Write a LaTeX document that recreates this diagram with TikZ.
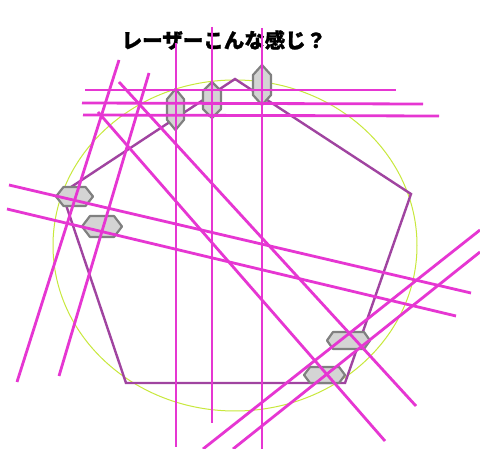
\documentclass[tikz,border=0pt]{standalone}
\usepackage{fontspec}
\newfontfamily\cjk[BoldFeatures={FakeBold=1.2}]{Noto Sans CJK JP}
\definecolor{laser}{RGB}{230,54,210}
\definecolor{penta}{RGB}{160,68,160}
\definecolor{ring}{RGB}{200,232,60}
\definecolor{hexline}{RGB}{128,128,128}
\definecolor{hexfill}{RGB}{212,212,212}
\tikzset{
  beam/.style={draw=laser, line width=2.8pt},
  pentaline/.style={draw=penta, line width=2.4pt, line join=miter},
  ringline/.style={draw=ring, line width=1pt},
  hexbox/.style={draw=hexline, fill=hexfill, line width=2.2pt, line join=round},
  titletext/.style={font=\cjk\bfseries\fontsize{20.5}{22}\selectfont, text=black, inner sep=0pt}
}
% vertical hexagon: cx, cy, w, h
\newcommand\vhexa[4]{%
  \draw[hexbox] (#1,{#2-#4/2}) -- ({#1+#3/2},{#2-#4/2+#4/4}) -- ({#1+#3/2},{#2+#4/2-#4/4})
    -- (#1,{#2+#4/2}) -- ({#1-#3/2},{#2+#4/2-#4/4}) -- ({#1-#3/2},{#2-#4/2+#4/4}) -- cycle;}
% horizontal hexagon: cx, cy, w, h, a
\newcommand\hhexa[5]{%
  \draw[hexbox] ({#1-#3/2},#2) -- ({#1-#3/2+#5},{#2-#4/2}) -- ({#1+#3/2-#5},{#2-#4/2})
    -- ({#1+#3/2},#2) -- ({#1+#3/2-#5},{#2+#4/2}) -- ({#1-#3/2+#5},{#2+#4/2}) -- cycle;}
\begin{document}
\begin{tikzpicture}[x=1pt,y=-1pt]
\useasboundingbox (0,0) rectangle (480,449);
\fill[white] (0,0) rectangle (480,449);
% title
\node[titletext] (title) at (224,40) {レーザーこんな感じ？};
% circle (ellipse)
\draw[ringline] (235,245.5) ellipse [x radius=182, y radius=165.5];
% pentagon
\coordinate (pt) at (235,79);
\coordinate (pr) at (411,194);
\coordinate (pbr) at (345,383);
\coordinate (pbl) at (126,383);
\coordinate (pl) at (62,193);
\draw[pentaline] (pt) -- (pr) -- (pbr) -- (pbl) -- (pl) -- cycle;
% mirrors / hexagons
\vhexa{175.5}{109.5}{17}{41}
\vhexa{212}{100}{18}{36}
\vhexa{262}{85}{18}{40}
\hhexa{74.5}{196.5}{37}{19}{7.5}
\hhexa{102}{226.5}{40}{21}{8}
\hhexa{348.5}{340.5}{43}{17}{6}
\hhexa{324.5}{375}{41}{16}{6}
% laser beams
\coordinate (h1a) at (85,90);   \coordinate (h1b) at (396,90);
\coordinate (h2a) at (82,103);  \coordinate (h2b) at (423,104);
\coordinate (h3a) at (83,115);  \coordinate (h3b) at (439,116);
\coordinate (v1a) at (176,43);  \coordinate (v1b) at (176,447);
\coordinate (v2a) at (212,27);  \coordinate (v2b) at (212,423);
\coordinate (v3a) at (262,28);  \coordinate (v3b) at (262,449);
\coordinate (l1a) at (119,60);  \coordinate (l1b) at (17,382);
\coordinate (l2a) at (149,73);  \coordinate (l2b) at (59,376);
\coordinate (d1a) at (119,82);  \coordinate (d1b) at (416,406);
\coordinate (d2a) at (98,112);  \coordinate (d2b) at (385,441);
\coordinate (s1a) at (9,185);   \coordinate (s1b) at (471,293);
\coordinate (s2a) at (7,209);   \coordinate (s2b) at (456,316);
\coordinate (u1a) at (203,449); \coordinate (u1b) at (480,230);
\coordinate (u2a) at (233,449); \coordinate (u2b) at (480,252);
\foreach \n in {h1,h2,h3,v1,v2,v3,l1,l2,d1,d2,s1,s2,u1,u2}
  \draw[beam] (\n a) -- (\n b);
\end{tikzpicture}
\end{document}
